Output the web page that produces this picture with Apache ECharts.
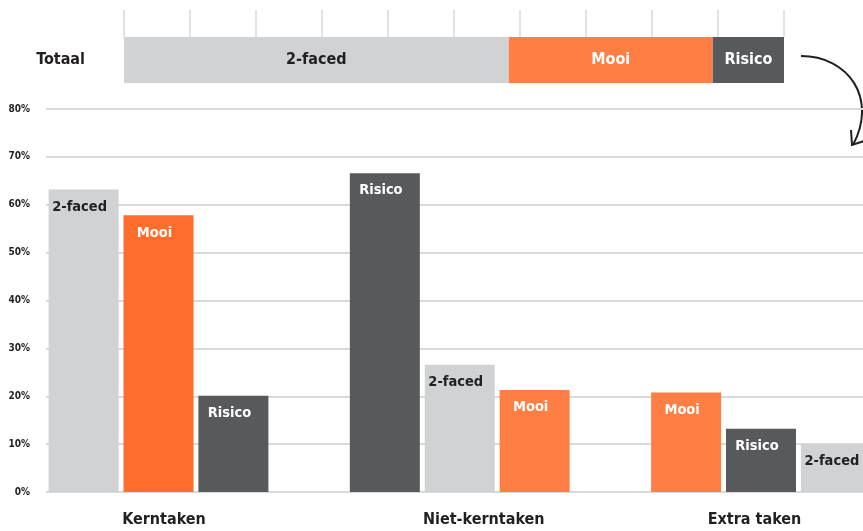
<!DOCTYPE html>
<html>
<head>
<meta charset="utf-8">
<script src="https://cdn.jsdelivr.net/npm/echarts@6/dist/echarts.min.js"></script>
<style>html,body{margin:0;padding:0;background:#fff}#c{width:863px;height:531px}</style>
</head>
<body>
<div id="c"></div>
<script>
var categories = ['Kerntaken', 'Niet-kerntaken', 'Extra taken'];
var seriesNames = ['2-faced', 'Mooi', 'Risico'];
var twoFaced = [63.2, 26.6, 10.0];
var mooi = [57.8, 21.3, 20.8];
var risico = [20.1, 66.6, 13.2];
var totaalCategory = ['Totaal'];
var totaal = [58.3, 30.9, 10.8];
var yTicks = [0, 10, 20, 30, 40, 50, 60, 70, 80];

var FONT = "'DejaVu Sans Condensed','DejaVu Sans',sans-serif";
var colors = { '2-faced': '#d1d2d4', 'Mooi': '#ff7e43', 'Risico': '#58595b' };
var textColors = { '2-faced': '#231f20', 'Mooi': '#ffffff', 'Risico': '#ffffff' };
var values = { '2-faced': twoFaced, 'Mooi': mooi, 'Risico': risico };

// build rank series: each group sorted descending
var rankSeries = [[], [], []];
categories.forEach(function (cat, ci) {
  var order = seriesNames.slice().sort(function (a, b) { return values[b][ci] - values[a][ci]; });
  order.forEach(function (name, ri) {
    var col = colors[name];
    if (name === 'Mooi' && ci === 0) col = '#ff6c2c';
    rankSeries[ri].push({
      value: values[name][ci],
      name: name,
      itemStyle: { color: col },
      label: { color: textColors[name] }
    });
  });
});

var barSeries = rankSeries.map(function (d, ri) {
  return {
    type: 'bar', xAxisIndex: 0, yAxisIndex: 0,
    barWidth: 70, barGap: '7%', clip: false,
    data: d,
    label: {
      show: true, position: 'insideTop', distance: 10, offset: [-4, 0],
      formatter: function (p) { return p.data.name; },
      fontFamily: FONT, fontWeight: 'bold', fontSize: 14.5
    },
    silent: true
  };
});

var topSeries = seriesNames.map(function (name, i) {
  return {
    type: 'bar', xAxisIndex: 2, yAxisIndex: 2, stack: 'tot',
    barWidth: '100%', name: name,
    data: [totaal[i]],
    itemStyle: { color: colors[name] },
    label: {
      show: true, position: 'inside', formatter: name,
      color: textColors[name], fontFamily: FONT, fontWeight: 'bold', fontSize: 16
    },
    silent: true
  };
});

var catRich = {};
[[0, 11], [1, 48], [2, -13]].forEach(function (p) {
  catRich['c' + p[0]] = {
    fontFamily: FONT, fontWeight: 'bold', fontSize: 16, color: '#231f20',
    padding: p[1] >= 0 ? [0, 0, 0, p[1]] : [0, -p[1], 0, 0]
  };
});

var chart = echarts.init(document.getElementById('c'));
chart.setOption({
  animation: false,
  grid: [
    { left: 158.5, right: 102, top: 109, bottom: 39 },
    { left: 46, right: 0, top: 109, bottom: 39 },
    { left: 124, width: 660, top: 37, height: 46 }
  ],
  xAxis: [
    {
      type: 'category', gridIndex: 0, data: categories, boundaryGap: false,
      axisLine: { show: false }, axisTick: { show: false },
      axisLabel: {
        margin: 20, fontFamily: FONT, fontWeight: 'bold', fontSize: 16, color: '#231f20',
        formatter: function (v, i) { return '{c' + i + '|' + v + '}'; },
        rich: catRich
      }
    },
    {
      type: 'value', gridIndex: 1, show: false
    },
    {
      type: 'value', gridIndex: 2, position: 'top', min: 0, max: 100, interval: 10,
      axisLine: { show: false },
      axisTick: { show: true, length: 27, lineStyle: { color: '#d9d9d9', width: 1.5 } },
      axisLabel: { show: false }, splitLine: { show: false }
    }
  ],
  yAxis: [
    { type: 'value', gridIndex: 0, min: 0, max: 80, interval: 10, show: false },
    {
      type: 'value', gridIndex: 1, min: 0, max: 80, interval: 10,
      axisLine: { show: false }, axisTick: { show: false },
      splitLine: { show: true, lineStyle: { color: '#dadada', width: 2 } },
      axisLabel: {
        margin: 16, fontFamily: FONT, fontWeight: 'bold', fontSize: 10, color: '#231f20',
        formatter: function (v) { return v + '%'; }
      }
    },
    {
      type: 'category', gridIndex: 2, data: totaalCategory,
      axisLine: { show: false }, axisTick: { show: false },
      axisLabel: { margin: 39, fontFamily: FONT, fontWeight: 'bold', fontSize: 16, color: '#231f20' }
    }
  ],
  series: barSeries.concat(topSeries),
  graphic: [
    {
      type: 'bezierCurve', silent: true,
      shape: { x1: 801, y1: 56, cpx1: 848, cpy1: 56, cpx2: 878, cpy2: 98, x2: 853, y2: 145 },
      style: { stroke: '#231f20', lineWidth: 2, fill: null }
    },
    {
      type: 'polyline', silent: true,
      shape: { points: [[851, 130], [852, 145], [864, 141]] },
      style: { stroke: '#231f20', lineWidth: 2, fill: null }
    }
  ]
});
</script>
</body>
</html>
